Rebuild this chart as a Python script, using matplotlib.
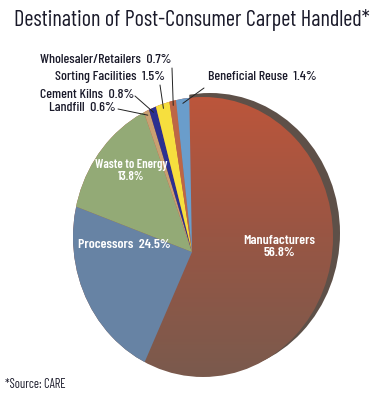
import numpy as np
import matplotlib
matplotlib.use("Agg")
import matplotlib.pyplot as plt
from matplotlib.patches import Ellipse
from matplotlib.colors import LinearSegmentedColormap

categories = ["Manufacturers", "Processors", "Waste to Energy", "Landfill",
              "Cement Kilns", "Sorting Facilities", "Wholesaler/Retailers",
              "Beneficial Reuse"]
values = [56.8, 24.5, 13.8, 0.6, 0.8, 1.5, 0.7, 1.4]
pct_labels = ["56.8%", "24.5%", "13.8%", "0.6%", "0.8%", "1.5%", "0.7%", "1.4%"]
colors = ["#a8553f", "#6783a4", "#93aa76", "#c9a072", "#2b3090",
          "#f6df3e", "#bd6646", "#6a9dcb"]

FONT = ["Barlow Condensed", "DejaVu Sans"]
plt.rcParams['font.family'] = FONT

W, H = 383, 401
fig = plt.figure(figsize=(W / 100, H / 100), dpi=100)

# single axes in pixel units (y up)
pax = fig.add_axes([0, 0, 1, 1])

# perspective-like pie: apex offset from the centre of the elliptic outline
apex = (192, H - 252)
ecx, ecy, erx, ery = 203, H - 237, 130, 140

wedges, _ = pax.pie(values, colors=colors, startangle=91, counterclock=False,
                    center=apex, radius=220, wedgeprops=dict(linewidth=0))
pax.set_xlim(0, W)
pax.set_ylim(0, H)
pax.set_aspect("auto")
pax.axis("off")

for w in wedges:
    w.set_clip_on(True)
    w.set_clip_path(Ellipse((ecx, ecy), 2 * erx, 2 * ery,
                            transform=pax.transData))
wedges[0].set_facecolor("none")

# gradient filling the manufacturers slice (other slices drawn on top)
grad = np.linspace(0, 1, 256).reshape(-1, 1)
cmap = LinearSegmentedColormap.from_list("m", ["#7a5a4d", "#985644", "#bc553b"])
im = pax.imshow(grad, extent=[ecx - erx, ecx + erx, ecy - ery, ecy + ery],
                origin="lower", cmap=cmap, aspect="auto", zorder=0.5)
im.set_clip_path(Ellipse((ecx, ecy), 2 * erx, 2 * ery, transform=pax.transData))

# dark thickness band behind the manufacturers slice
shadow = Ellipse((ecx + 7, ecy + 4), 2 * erx, 2 * ery, facecolor="#5e5048",
                 linewidth=0, zorder=0.2)
pax.add_patch(shadow)
shadow.set_clip_path(wedges[0])
pax.set_xlim(0, W)
pax.set_ylim(0, H)

ax = pax

def edge_point(i, frac=0.97):
    w = wedges[i]
    a = np.deg2rad((w.theta1 + w.theta2) / 2)
    c, s = np.cos(a), np.sin(a)
    dx, dy = apex[0] - ecx, apex[1] - ecy
    A = (c / erx) ** 2 + (s / ery) ** 2
    B = 2 * (dx * c / erx ** 2 + dy * s / ery ** 2)
    C = (dx / erx) ** 2 + (dy / ery) ** 2 - 1
    t = (-B + np.sqrt(B * B - 4 * A * C)) / (2 * A)
    t *= frac
    return (apex[0] + t * c, apex[1] + t * s)

# inside labels
ax.text(279, H - 247, f"{categories[0]}\n{pct_labels[0]}", color="white",
        fontsize=10, fontweight="semibold", ha="center", va="center",
        linespacing=1.0)
ax.text(124, H - 245, f"{categories[1]}  {pct_labels[1]}", color="white",
        fontsize=10, fontweight="semibold", ha="center", va="center")
ax.text(131, H - 171, f"{categories[2]}\n{pct_labels[2]}", color="white",
        fontsize=9, fontweight="semibold", ha="center", va="center",
        linespacing=1.0)

outside = [
    (6, (40, 60), (172, 68)),
    (5, (55, 77), (160, 85)),
    (4, (40, 95), (135, 96)),
    (3, (49, 108), (118, 109)),
    (7, (208, 77), (204, 88)),
]
for i, tpos, lstart in outside:
    ax.text(tpos[0], H - tpos[1], f"{categories[i]}  {pct_labels[i]}",
            fontsize=10, fontweight="medium", color="#1a1a2a",
            ha="left", va="center")
    ax.annotate("", xy=edge_point(i), xytext=(lstart[0], H - lstart[1]),
                arrowprops=dict(arrowstyle="-", color="#222222", lw=0.7,
                                shrinkA=0, shrinkB=0))

ax.text(192, H - 20, "Destination of Post-Consumer Carpet Handled*",
        fontsize=16, fontweight="normal", color="#1a1a2a",
        ha="center", va="center")
ax.text(5, H - 385, "*Source: CARE", fontsize=9, color="#1a1a2a",
        ha="left", va="center")

fig.savefig("out.png", dpi=100)
